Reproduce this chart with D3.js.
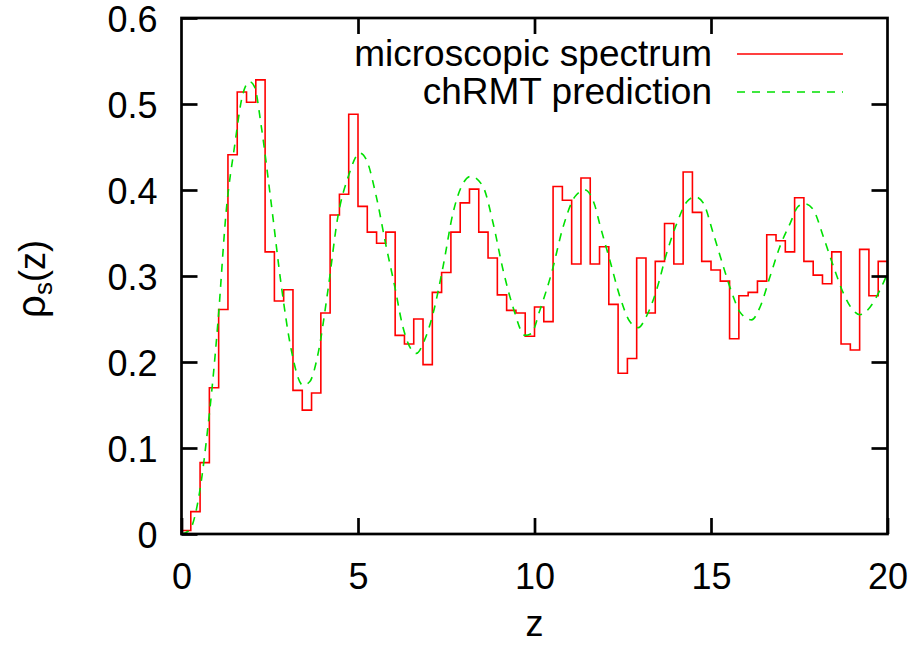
<!DOCTYPE html>
<html>
<head>
<meta charset="utf-8">
<script src="https://cdn.jsdelivr.net/npm/d3@7/dist/d3.min.js"></script>
<style>
  html, body { margin: 0; padding: 0; background: #fff; }
  svg text { font-family: "Liberation Sans", Arial, Helvetica, sans-serif; }
</style>
</head>
<body>
<svg id="chart" width="915" height="646"></svg>
<script>
// Histogram of the microscopic spectrum (76 equal bins over z in [0, 20])
const histValues = [
  0.004, 0.026, 0.083, 0.170, 0.261, 0.441, 0.514, 0.502, 0.528, 0.328,
  0.271, 0.284, 0.167, 0.144, 0.164, 0.257, 0.371, 0.395, 0.488, 0.381,
  0.351, 0.338, 0.351, 0.231, 0.221, 0.250, 0.197, 0.281, 0.304, 0.351,
  0.385, 0.401, 0.351, 0.321, 0.278, 0.260, 0.257, 0.230, 0.264, 0.247,
  0.404, 0.388, 0.314, 0.414, 0.314, 0.334, 0.267, 0.187, 0.204, 0.321,
  0.257, 0.317, 0.361, 0.314, 0.421, 0.374, 0.317, 0.307, 0.294, 0.227,
  0.277, 0.281, 0.294, 0.348, 0.341, 0.328, 0.391, 0.317, 0.301, 0.291,
  0.328, 0.221, 0.214, 0.331, 0.277, 0.317
];
const histRange = [0, 20];

// chRMT prediction
const curveZ = [
  0, 0.235, 0.51, 0.75, 0.89, 1.03, 1.27, 1.50, 1.74, 1.93, 2.07, 2.26, 2.54, 2.83, 3.11,
  3.44, 3.63, 3.87, 4.15, 4.43, 4.72, 5.05, 5.24, 5.52, 5.80, 6.04, 6.27, 6.65, 6.89,
  7.13, 7.41, 7.69, 7.98, 8.20, 8.54, 8.83, 9.11, 9.39, 9.73, 9.91, 10.15, 10.48,
  10.81, 11.14, 11.43, 11.71, 11.85, 12.13, 12.42, 12.70, 12.94, 13.17, 13.46, 13.74,
  14.03, 14.31, 14.55, 14.78, 15.06, 15.35, 15.63, 15.82, 16.15, 16.39, 16.67, 16.95,
  17.24, 17.47, 17.66, 17.90, 18.18, 18.47, 18.75, 19.03, 19.22, 19.51, 19.79, 20.0
];
const curveRho = [
  0, 0.005, 0.048, 0.125, 0.180, 0.245, 0.377, 0.450, 0.512, 0.526, 0.520, 0.474, 0.385, 0.288, 0.214,
  0.173, 0.177, 0.210, 0.284, 0.369, 0.415, 0.443, 0.435, 0.392, 0.334, 0.288, 0.241, 0.210, 0.226,
  0.257, 0.311, 0.373, 0.408, 0.416, 0.404, 0.361, 0.307, 0.264, 0.231, 0.233, 0.260, 0.303,
  0.357, 0.392, 0.400, 0.382, 0.360, 0.319, 0.276, 0.247, 0.240, 0.253, 0.284, 0.326,
  0.361, 0.386, 0.392, 0.385, 0.350, 0.311, 0.276, 0.258, 0.249, 0.264, 0.299, 0.334,
  0.361, 0.381, 0.384, 0.377, 0.346, 0.311, 0.280, 0.260, 0.255, 0.264, 0.284, 0.303
];

const xTicks = [0, 5, 10, 15, 20];
const yTicks = [0, 0.1, 0.2, 0.3, 0.4, 0.5, 0.6];
const seriesNames = ["microscopic spectrum", "chRMT prediction"];
const xLabel = "z";

const svg = d3.select("#chart");
const plot = { left: 181.5, right: 887.5, top: 18, bottom: 534 };
const x = d3.scaleLinear().domain([0, 20]).range([plot.left, plot.right]);
const y = d3.scaleLinear().domain([0, 0.6]).range([plot.bottom, plot.top]);
const FS = 36;
const tickLen = 16;

// clip
svg.append("defs").append("clipPath").attr("id", "clip")
  .append("rect").attr("x", plot.left).attr("y", plot.top)
  .attr("width", plot.right - plot.left).attr("height", plot.bottom - plot.top);

// histogram steps
const bw = (histRange[1] - histRange[0]) / histValues.length;
const stepPts = histValues.map((v, i) => [histRange[0] + i * bw, v]);
stepPts.push([histRange[1], histValues[histValues.length - 1]]);
const stepLine = d3.line().x(d => x(d[0])).y(d => y(d[1])).curve(d3.curveStepAfter);
svg.append("path").attr("clip-path", "url(#clip)")
  .attr("d", stepLine(stepPts))
  .attr("fill", "none").attr("stroke", "#ff0000").attr("stroke-width", 1.6);

// chRMT curve
const cLine = d3.line().x(d => x(d[0])).y(d => y(d[1])).curve(d3.curveMonotoneX);
svg.append("path").attr("clip-path", "url(#clip)")
  .attr("d", cLine(curveZ.map((z, i) => [z, curveRho[i]])))
  .attr("fill", "none").attr("stroke", "#00e000").attr("stroke-width", 1.6)
  .attr("stroke-dasharray", "8,7");

// axes (ticks inward on all sides)
const axB = d3.axisBottom(x).tickValues(xTicks).tickSize(-tickLen).tickFormat(d3.format("d"));
const axT = d3.axisTop(x).tickValues(xTicks.slice(1, -1)).tickSize(-tickLen).tickFormat("");
const axL = d3.axisLeft(y).tickValues(yTicks).tickSize(-tickLen)
  .tickFormat(d => d === 0 ? "0" : d3.format(".1f")(d));
const axR = d3.axisRight(y).tickValues(yTicks.slice(1, -1)).tickSize(-tickLen).tickFormat("");

function styleAxis(g) {
  g.select(".domain").remove();
  g.selectAll(".tick line").attr("stroke", "#000").attr("stroke-width", 2.7);
  g.selectAll(".tick text").attr("fill", "#000").attr("font-size", FS)
    .attr("font-family", '"Liberation Sans", Arial, sans-serif');
}
svg.append("g").attr("transform", `translate(0,${plot.bottom})`).call(axB).call(styleAxis)
  .selectAll(".tick text").attr("dy", "0.71em").attr("y", 29);
svg.append("g").attr("transform", `translate(0,${plot.top})`).call(axT).call(styleAxis);
svg.append("g").attr("transform", `translate(${plot.left},0)`).call(axL).call(styleAxis)
  .selectAll(".tick text").attr("dy", "0.38em").attr("x", -24);
svg.append("g").attr("transform", `translate(${plot.right},0)`).call(axR).call(styleAxis);

// border
svg.append("rect").attr("x", plot.left).attr("y", plot.top)
  .attr("width", plot.right - plot.left).attr("height", plot.bottom - plot.top)
  .attr("fill", "none").attr("stroke", "#000").attr("stroke-width", 2.7);

// axis labels
svg.append("text").attr("x", (plot.left + plot.right) / 2).attr("y", 636)
  .attr("text-anchor", "middle").attr("font-size", FS).text(xLabel);

const yl = svg.append("text").attr("transform", "translate(45,279) rotate(-90)")
  .attr("text-anchor", "middle").attr("font-size", FS);
yl.append("tspan").attr("font-size", 40).text("ρ");
yl.append("tspan").attr("font-size", 26).attr("dy", 7).text("s");
yl.append("tspan").attr("dy", -7).text("(z)");

// legend
const legend = svg.append("g");
const legY = [54, 92];
const legColors = ["#ff0000", "#00e000"];
seriesNames.forEach((name, i) => {
  legend.append("text").attr("x", 712).attr("y", legY[i] + 12)
    .attr("text-anchor", "end").attr("font-size", 37).text(name);
  legend.append("line").attr("x1", 737).attr("x2", 843)
    .attr("y1", legY[i]).attr("y2", legY[i])
    .attr("stroke", legColors[i]).attr("stroke-width", 1.6)
    .attr("stroke-dasharray", i === 1 ? "8,7" : null);
});
</script>
</body>
</html>
